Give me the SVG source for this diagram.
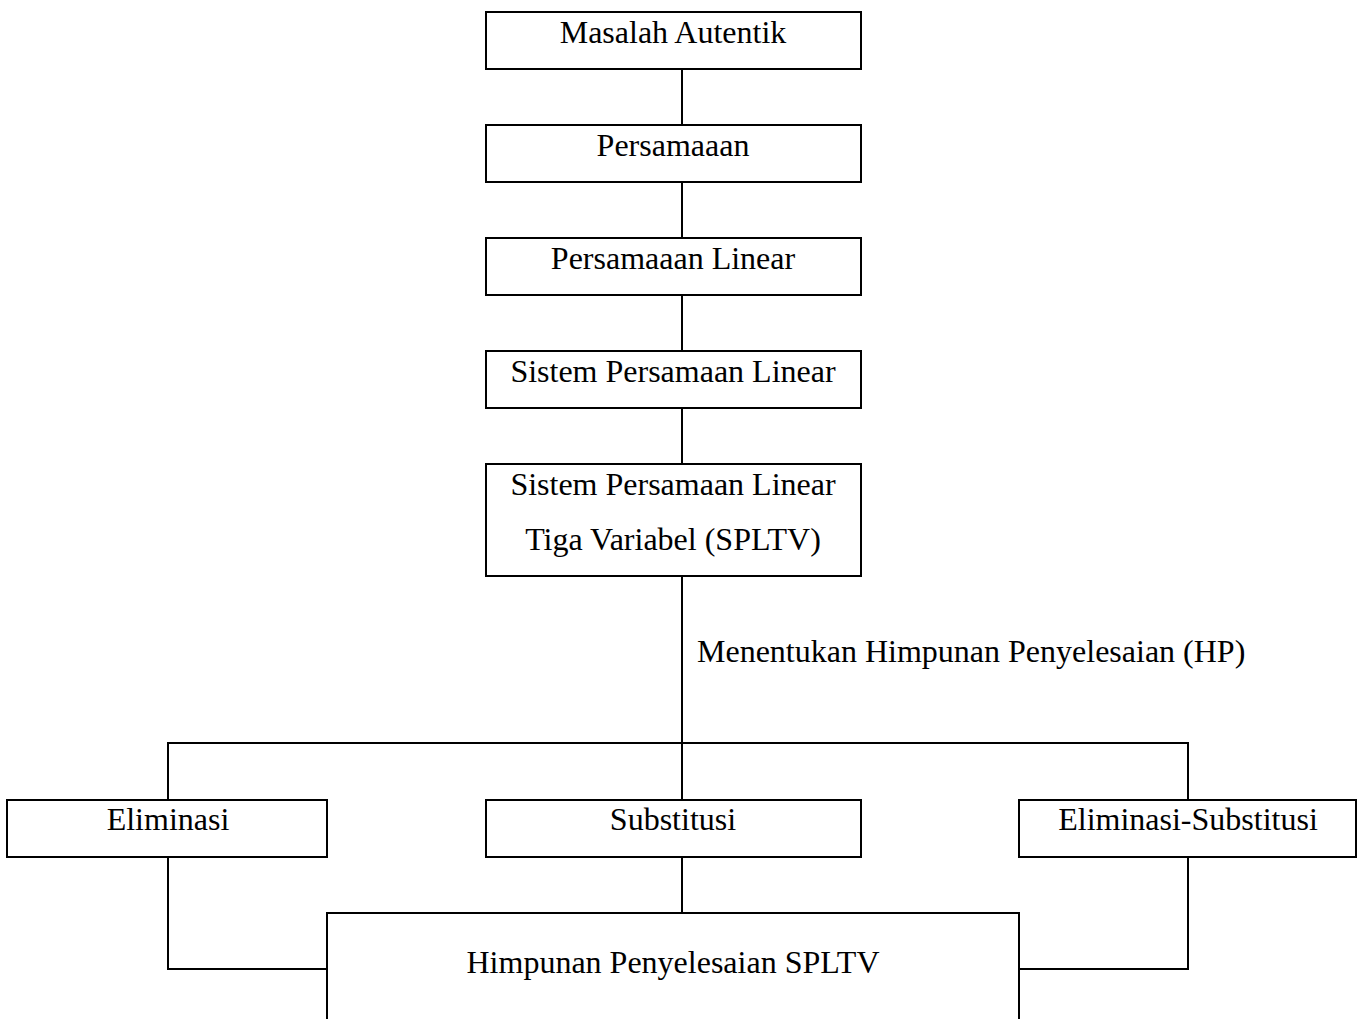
<svg xmlns="http://www.w3.org/2000/svg" width="1360" height="1019" viewBox="0 0 1360 1019">
<style>
.box{fill:#fff;stroke:#000;stroke-width:2}
.ln{fill:none;stroke:#000;stroke-width:2}
text{font-family:"Liberation Serif","Times New Roman",serif;font-size:32px;fill:#000}
.c{text-anchor:middle}
</style>
<rect width="1360" height="1019" fill="#fff"/>
<g id="connectors">
<path class="ln" d="M682 69V125M682 182V238M682 295V351M682 408V464M682 576V800M168 800V743H1188V800M682 857V913M168 857V969H327M1188 857V969H1019"/>
</g>
<g id="n1"><rect class="box" x="486" y="12" width="375" height="57"/><text class="c" x="673" y="43">Masalah Autentik</text></g>
<g id="n2"><rect class="box" x="486" y="125" width="375" height="57"/><text class="c" x="673" y="156">Persamaaan</text></g>
<g id="n3"><rect class="box" x="486" y="238" width="375" height="57"/><text class="c" x="673" y="269">Persamaaan Linear</text></g>
<g id="n4"><rect class="box" x="486" y="351" width="375" height="57"/><text class="c" x="673" y="382">Sistem Persamaan Linear</text></g>
<g id="n5"><rect class="box" x="486" y="464" width="375" height="112"/><text class="c" x="673" y="495">Sistem Persamaan Linear</text><text class="c" x="673" y="550">Tiga Variabel (SPLTV)</text></g>
<g id="label"><text x="697" y="662">Menentukan Himpunan Penyelesaian (HP)</text></g>
<g id="n6"><rect class="box" x="7" y="800" width="320" height="57"/><text class="c" x="168" y="830">Eliminasi</text></g>
<g id="n7"><rect class="box" x="486" y="800" width="375" height="57"/><text class="c" x="673" y="830">Substitusi</text></g>
<g id="n8"><rect class="box" x="1019" y="800" width="337" height="57"/><text class="c" x="1188" y="830">Eliminasi-Substitusi</text></g>
<g id="n9"><path class="ln" d="M327 1030V913H1019V1030" style="fill:#fff"/><text class="c" x="673" y="973">Himpunan Penyelesaian SPLTV</text></g>
</svg>
